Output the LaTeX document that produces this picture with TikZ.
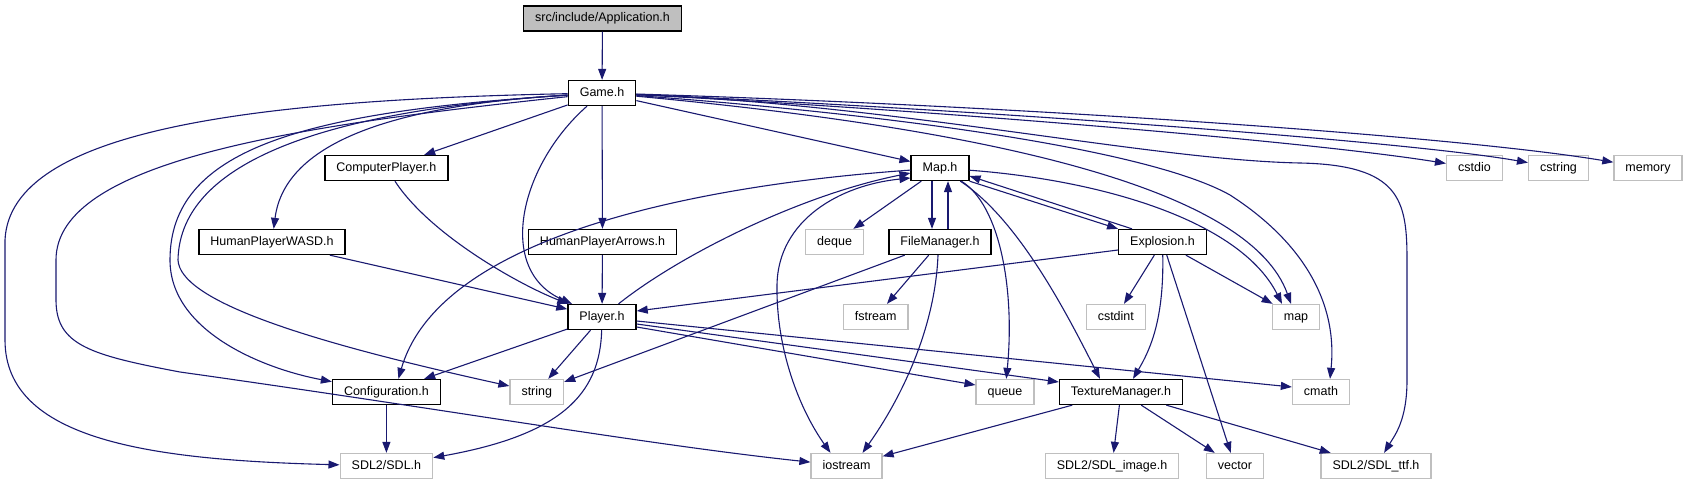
\documentclass[tikz,border=0pt]{standalone}
\usepackage{fontspec}
\setmainfont{Liberation Sans}
\usepackage{tikz}
\usetikzlibrary{arrows.meta}
\definecolor{inclblue}{RGB}{25,25,112}
\definecolor{sysgray}{RGB}{191,191,191}

\begin{document}
\begin{tikzpicture}[x=1pt, y=-1pt,
  hdr/.style={rectangle, draw=black, line width=1.3pt, fill=white,
              minimum height=25pt, inner xsep=11.5pt, inner ysep=6.5pt,
              text height=9pt, text depth=2.5pt, font=\fontsize{12.5}{15}\selectfont},
  syshdr/.style={hdr, draw=sysgray},
  roothdr/.style={hdr, fill=sysgray},
  incl/.style={draw=inclblue, line width=1.1pt, -{Triangle[length=11pt, width=8pt]}},
  incl2/.style={incl, {Triangle[length=11pt, width=8pt]}-{Triangle[length=11pt, width=8pt]}}]

\useasboundingbox (0,0) rectangle (1688,485);

\node[roothdr] (app) at (602.5,18.5) {src/include/Application.h};
\node[hdr] (game) at (602,93) {Game.h};

\node[hdr] (cplayer) at (386.4,168) {ComputerPlayer.h};
\node[hdr] (map) at (940,168) {Map.h};
\node[syshdr] (cstdio) at (1474.4,168) {cstdio};
\node[syshdr] (cstring) at (1558.5,168) {cstring};
\node[syshdr] (memory) at (1648,168) {memory};

\node[hdr] (wasd) at (272,242) {HumanPlayerWASD.h};
\node[hdr] (arrows) at (602.5,242) {HumanPlayerArrows.h};
\node[syshdr] (deque) at (834.6,242) {deque};
\node[hdr] (filemgr) at (940,242) {FileManager.h};
\node[hdr] (explosion) at (1162.5,242) {Explosion.h};

\node[hdr] (player) at (602,317) {Player.h};
\node[syshdr] (fstream) at (875.7,317) {fstream};
\node[syshdr] (cstdint) at (1115.8,317) {cstdint};
\node[syshdr] (stdmap) at (1296,317) {map};

\node[hdr] (config) at (386.4,392) {Configuration.h};
\node[syshdr] (string) at (536.8,392) {string};
\node[syshdr] (queue) at (1005,392) {queue};
\node[hdr] (texmgr) at (1121,392) {TextureManager.h};
\node[syshdr] (cmath) at (1321,392) {cmath};

\node[syshdr] (sdl) at (386.4,466) {SDL2/SDL.h};
\node[syshdr] (iostream) at (846.5,466) {iostream};
\node[syshdr] (sdlimage) at (1112,466) {SDL2/SDL\_image.h};
\node[syshdr] (vector) at (1235,466) {vector};
\node[syshdr] (sdlttf) at (1376,466) {SDL2/SDL\_ttf.h};

% Application.h and Game.h
\draw[incl] (app) -- (game);
\draw[incl] (game) -- (cplayer);
\draw[incl] (game) .. controls (400,105) and (285,140) .. (wasd);
\draw[incl] (game) -- (arrows);
\draw[incl] (game) .. controls (520,165) and (495,270) .. (player);
\draw[incl] (game) -- (map);
\draw[incl] (game) .. controls (250,100) and (10,130) .. (5,240) -- (5,340) .. controls (5,440) and (150,460) .. (sdl);
\draw[incl] (game) .. controls (300,125) and (56,160) .. (56,260) -- (56,300) .. controls (56,345) and (90,355) .. (180,372) .. controls (450,410) and (650,445) .. (iostream);
\draw[incl] (game) .. controls (300,112) and (170,150) .. (170,260) .. controls (170,330) and (260,368) .. (config);
\draw[incl] (game) .. controls (330,110) and (180,160) .. (178,260) .. controls (180,300) and (300,340) .. (string);
\draw[incl] (game) .. controls (900,108) and (1300,140) .. (cstdio);
\draw[incl] (game) .. controls (950,108) and (1400,140) .. (cstring);
\draw[incl] (game) .. controls (1000,105) and (1450,135) .. (memory);
\draw[incl] (game) .. controls (900,105) and (1150,160) .. (1300,163) .. controls (1400,165) and (1407,200) .. (1407,260) -- (1407,380) .. controls (1407,420) and (1395,435) .. (sdlttf);
\draw[incl] (game) .. controls (900,115) and (1150,150) .. (1230,195) .. controls (1300,240) and (1338,300) .. ([xshift=9pt]cmath.north);
\draw[incl] (game) .. controls (1000,130) and (1250,190) .. ([xshift=-5pt]stdmap.north);

% the player headers
\draw[incl] (cplayer) .. controls (430,235) and (520,285) .. (player);
\draw[incl] (wasd) -- (player);
\draw[incl] (arrows) -- (player);
\draw[incl] (player) .. controls (680,255) and (800,195) .. ([yshift=-5pt]map.west);
\draw[incl] (player) -- (config);
\draw[incl] (player) -- (string);
\draw[incl] (player) .. controls (600,395) and (560,435) .. (sdl);
\draw[incl] ([yshift=-10pt]player.east) -- ([yshift=7pt]queue.west);
\draw[incl] ([yshift=-7pt]player.east) -- ([yshift=10pt]texmgr.west);
\draw[incl] ([yshift=-4pt]player.east) -- ([yshift=5pt]cmath.west);
\draw[incl] (config) -- (sdl);

% Map.h
\draw[incl] (map) .. controls (700,185) and (440,235) .. ([xshift=12pt]config.north);
\draw[incl2] ([yshift=-10pt]map.west) .. controls (840,185) and (778,220) .. (777,285) .. controls (776,350) and (800,410) .. ([xshift=-16pt]iostream.north);
\draw[incl] (map) -- (deque);
\draw[incl] ([xshift=-8pt]map.south) -- ([xshift=-8pt]filemgr.north);
\draw[incl] ([xshift=8pt]filemgr.north) -- ([xshift=8pt]map.south);
\draw[incl] (map.south east) -- (explosion.north west);
\draw[incl] ([xshift=14pt]explosion.north west) -- ([yshift=-8pt]map.east);
\draw[incl] (map) .. controls (1000,205) and (1015,290) .. (queue);
\draw[incl] (map) .. controls (1020,220) and (1070,320) .. ([xshift=-21pt]texmgr.north);
\draw[incl] (map) .. controls (1100,180) and (1240,220) .. ([xshift=-14pt]stdmap.north);

% FileManager.h
\draw[incl] (filemgr) -- (string);
\draw[incl] (filemgr) -- (fstream);
\draw[incl] ([xshift=-2pt]filemgr.south) .. controls (935,330) and (900,400) .. ([xshift=16pt]iostream.north);

% Explosion.h
\draw[incl] ([yshift=-8pt]explosion.west) -- ([yshift=6pt]player.east);
\draw[incl] (explosion) -- (cstdint);
\draw[incl] (explosion) .. controls (1164,320) and (1150,350) .. ([xshift=12pt]texmgr.north);
\draw[incl] (explosion) -- (vector);
\draw[incl] (explosion) -- (stdmap);

% TextureManager.h
\draw[incl] (texmgr) -- (iostream);
\draw[incl] (texmgr) -- (sdlimage);
\draw[incl] (texmgr) -- (vector);
\draw[incl] (texmgr) -- (sdlttf);

\end{tikzpicture}
\end{document}
